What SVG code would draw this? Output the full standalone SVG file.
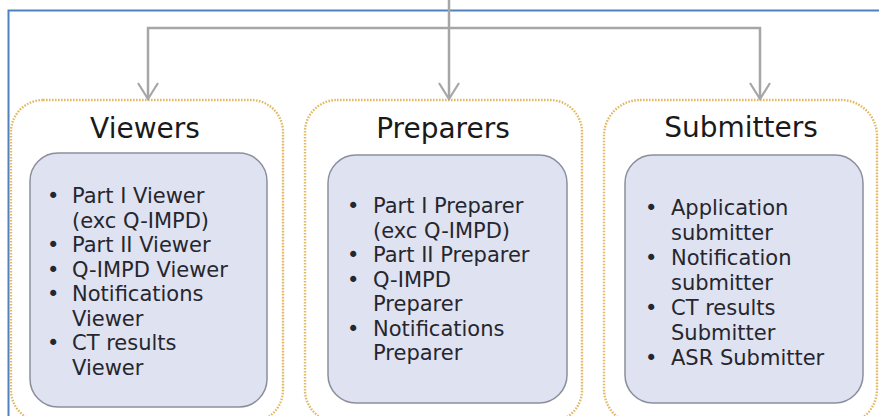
<svg xmlns="http://www.w3.org/2000/svg" width="879" height="416" viewBox="0 0 879 416">
<style>
.outer{fill:#ffffff;stroke:#e2b964;stroke-width:2.4;stroke-dasharray:1.6 1.4}
.inner{fill:#dfe2f1;stroke:#8c8e9c;stroke-width:1.5}
.title{font-family:"DejaVu Sans",Verdana,sans-serif;font-size:28px;fill:#1a1a1a;text-anchor:middle}
.item{font-family:"DejaVu Sans",Verdana,sans-serif;font-size:21px;fill:#26262e}
.conn{fill:none;stroke:#a6a6a6;stroke-width:2.5}
</style>
<defs>
<marker id="arr" markerWidth="24" markerHeight="20" refX="11" refY="17" orient="0" markerUnits="userSpaceOnUse">
<path d="M1,1 L11,17 L21,1" fill="none" stroke="#a6a6a6" stroke-width="2.2"/>
</marker>
</defs>
<rect x="0" y="0" width="879" height="416" fill="#ffffff"/>
<g id="frame">
<path d="M8.5,416 V10.5 H879" fill="none" stroke="#4f81bd" stroke-width="2"/>
</g>
<g id="viewers">
<rect class="outer" x="11" y="100" width="272" height="322" rx="32"/>
<text class="title" x="145" y="138">Viewers</text>
<rect class="inner" x="30" y="153" width="237" height="254" rx="28"/>
<g class="item">
<text x="47" y="203">•</text><text x="72" y="203">Part I Viewer</text>
<text x="72" y="227.5">(exc Q-IMPD)</text>
<text x="47" y="252">•</text><text x="72" y="252">Part II Viewer</text>
<text x="47" y="276.5">•</text><text x="72" y="276.5">Q-IMPD Viewer</text>
<text x="47" y="301">•</text><text x="72" y="301">Notifications</text>
<text x="72" y="325.5">Viewer</text>
<text x="47" y="350">•</text><text x="72" y="350">CT results</text>
<text x="72" y="374.5">Viewer</text>
</g>
</g>
<g id="preparers">
<rect class="outer" x="305" y="100" width="277" height="322" rx="32"/>
<text class="title" x="443" y="138">Preparers</text>
<rect class="inner" x="328" y="155" width="239" height="248" rx="28"/>
<g class="item">
<text x="347" y="213">•</text><text x="373" y="213">Part I Preparer</text>
<text x="373" y="237.5">(exc Q-IMPD)</text>
<text x="347" y="262">•</text><text x="373" y="262">Part II Preparer</text>
<text x="347" y="286.5">•</text><text x="373" y="286.5">Q-IMPD</text>
<text x="373" y="311">Preparer</text>
<text x="347" y="335.5">•</text><text x="373" y="335.5">Notifications</text>
<text x="373" y="360">Preparer</text>
</g>
</g>
<g id="submitters">
<rect class="outer" x="604" y="100" width="273" height="325" rx="36"/>
<text class="title" x="741" y="137">Submitters</text>
<rect class="inner" x="625" y="155" width="238" height="248" rx="28"/>
<g class="item">
<text x="645" y="215">•</text><text x="671" y="215">Application</text>
<text x="671" y="240">submitter</text>
<text x="645" y="265">•</text><text x="671" y="265">Notification</text>
<text x="671" y="290">submitter</text>
<text x="645" y="315">•</text><text x="671" y="315">CT results</text>
<text x="671" y="340">Submitter</text>
<text x="645" y="365">•</text><text x="671" y="365">ASR Submitter</text>
</g>
</g>
<g id="connectors">
<path class="conn" d="M449,0 V99" marker-end="url(#arr)"/>
<path class="conn" d="M449,28 H148 V99" marker-end="url(#arr)"/>
<path class="conn" d="M449,28 H760 V99" marker-end="url(#arr)"/>
</g>
</svg>
